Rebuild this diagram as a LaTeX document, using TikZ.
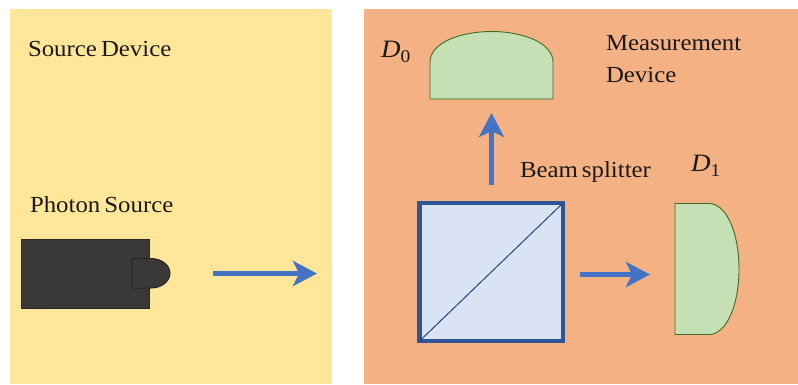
\documentclass[tikz,border=0pt]{standalone}
\usepackage{fontspec}
\setmainfont[FakeStretch=1.08,WordSpace=0.65]{Liberation Serif}
\usetikzlibrary{arrows.meta}
\definecolor{panelyellow}{HTML}{FFE699}
\definecolor{panelorange}{HTML}{F4B183}
\definecolor{detgreen}{HTML}{C5E0B4}
\definecolor{detline}{HTML}{3F6B28}
\definecolor{darkbox}{HTML}{3B3838}
\definecolor{beamblue}{HTML}{4472C4}
\definecolor{splitfill}{HTML}{DAE3F3}
\definecolor{splitline}{HTML}{2F5597}
\newcommand{\lab}[2]{{\fontsize{25}{26}\selectfont\textit{#1}}\raisebox{-0.22em}{\fontsize{18}{18}\selectfont #2}}
\tikzset{
  x=1pt,y=-1pt,
  txt/.style={anchor=base west,inner sep=0pt,outer sep=0pt,font=\fontsize{23}{26}\selectfont,text=black!90},
  beam/.style={draw=beamblue,line width=5pt,-{Stealth[length=24pt,width=25pt,inset=6pt]}},
  detector/.style={draw=detline,fill=detgreen,line width=0.9pt},
  darkpart/.style={draw=black!85,fill=darkbox,line width=1pt},
}
\begin{document}
\begin{tikzpicture}
\useasboundingbox (0,0) rectangle (798,384);
\fill[white] (0,0) rectangle (798,384);
\fill[panelyellow] (10,9) rectangle (332,384);
\fill[panelorange] (364,9) rectangle (798,384);
% source
\draw[darkpart] (21.5,239) rectangle (149,308);
\draw[darkpart] (132,258.5) -- (151,258.5) arc[start angle=90,end angle=-90,x radius=19,y radius=-14.75] -- (132,288) -- cycle;
% detectors
\draw[detector] (430,99) -- (430,62) .. controls (430,43) and (460,31.5) .. (491.5,31.5) .. controls (523,31.5) and (553,43) .. (553,62) -- (553,99) -- cycle;
\draw[detector] (675,203.5) -- (709,203.5) .. controls (726,203.5) and (739,232) .. (739,269) .. controls (739,306) and (726,334.5) .. (709,334.5) -- (675,334.5) -- cycle;
% splitter
\node[draw=splitline,fill=splitfill,line width=4.3pt,outer sep=0pt,minimum width=143.7pt,minimum height=138.3pt,inner sep=0pt,anchor=north west] (split) at (419.45,202.85) {};
\draw[splitline!80!black,line width=1pt] (split.south west) -- (split.north east);
% beams
\coordinate (s1) at (213,273.5); \coordinate (e1) at (317,273.5);
\coordinate (s2) at (491.5,185); \coordinate (e2) at (491.5,113);
\coordinate (s3) at (580,274.5); \coordinate (e3) at (650,274.5);
\draw[beam] (s1) -- (e1);
\draw[beam] (s2) -- (e2);
\draw[beam] (s3) -- (e3);
% labels
\node[txt] (sd) at (28,56) {Source Device};
\node[txt] (ps) at (30,212) {Photon Source};
\node[txt] (m1) at (606,50) {Measurement};
\node[txt] (m2) at (606,82) {Device};
\node[txt] (bs) at (520,177) {Beam splitter};
\node[txt] (d0) at (381,57) {\lab{D}{0}};
\node[txt] (d1) at (691,171) {\lab{D}{1}};
\end{tikzpicture}
\end{document}
